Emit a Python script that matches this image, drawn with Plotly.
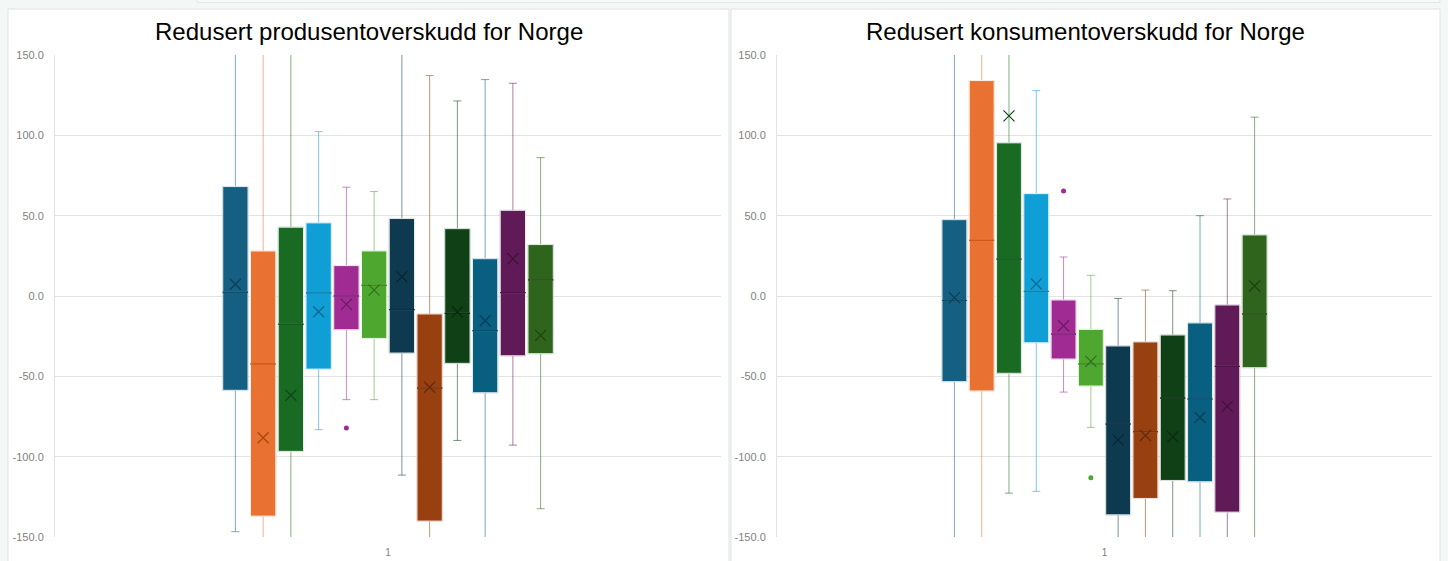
import colorsys
import plotly.graph_objects as go

# ---------------- data ----------------
category = ["1"]
titles = ["Redusert produsentoverskudd for Norge", "Redusert konsumentoverskudd for Norge"]
series_names = ["Serie %d" % (i + 1) for i in range(12)]
y_tick_values = [-150, -100, -50, 0, 50, 100, 150]
y_tick_labels = ["-150.0", "-100.0", "-50.0", "0.0", "50.0", "100.0", "150.0"]

# Panel 1: Redusert produsentoverskudd
prod_low = [-146.7, -175, -175, -83.2, -64.5, -64.5, -111.5, -175, -89.9, -175, -92.8, -132.4]
prod_q1 = [-58.7, -137.0, -96.7, -45.5, -21.0, -26.4, -35.5, -140.1, -41.9, -60.2, -37.2, -35.9]
prod_median = [2.3, -42.3, -17.6, 1.9, 0.0, 6.6, -8.5, -57.3, -10.8, -21.6, 2.1, 10.0]
prod_q3 = [68.1, 28.0, 42.8, 45.5, 18.9, 28.0, 48.2, -11.2, 41.9, 23.2, 53.3, 32.0]
prod_high = [175, 175, 175, 102.3, 67.7, 65.0, 175, 137.2, 121.4, 134.7, 132.4, 86.1]
prod_mean = [7.3, -88.2, -61.8, -9.8, -5.2, 3.7, 12.0, -56.8, -9.8, -15.4, 23.2, -24.5]
prod_outliers = [[], [], [], [], [-82.2], [], [], [], [], [], [], []]

# Panel 2: Redusert konsumentoverskudd
kons_low = [-175, -175, -122.7, -121.6, -59.8, -81.8, -175, -175, -175, -175, -175, -175]
kons_q1 = [-53.3, -59.1, -48.1, -29.1, -39.2, -56.0, -136.2, -126.0, -114.8, -115.6, -134.5, -44.6]
kons_median = [-2.8, 34.7, 23.0, 2.9, -23.7, -42.3, -79.7, -84.5, -63.5, -64.1, -43.8, -11.2]
kons_q3 = [47.5, 134.1, 95.3, 63.7, -2.5, -20.8, -31.1, -28.6, -24.3, -16.8, -5.6, 38.0]
kons_high = [175, 175, 175, 127.8, 24.3, 12.9, -1.5, 3.7, 3.3, 50.0, 60.4, 111.3]
kons_mean = [-1.0, 165.0, 112.1, 7.5, -18.5, -40.7, -89.5, -86.8, -87.6, -75.5, -68.7, 6.2]
kons_outliers = [[], [], [], [], [65.4], [-113.1], [], [], [], [], [], []]

# ---------------- styling ----------------
accents = ["#156082", "#E97132", "#196B24", "#0F9ED5", "#A02B93", "#4EA72E"]


def hex_rgb(h):
    h = h.lstrip("#")
    return tuple(int(h[i:i + 2], 16) for i in (0, 2, 4))


def lum_mod(h, f):
    r, g, b = hex_rgb(h)
    hh, l, s = colorsys.rgb_to_hls(r / 255, g / 255, b / 255)
    r, g, b = colorsys.hls_to_rgb(hh, l * f, s)
    return "#%02x%02x%02x" % (round(r * 255), round(g * 255), round(b * 255))


def rgba(h, a):
    r, g, b = hex_rgb(h)
    return "rgba(%d,%d,%d,%.2f)" % (r, g, b, a)


colors = accents + [lum_mod(c, 0.6) for c in accents]

W, H = 1448, 561
PAGE_BG = "#f3f7f6"
FONT = "Liberation Sans, Arial, Helvetica, sans-serif"

fig = go.Figure()

panels = [
    ("x", "y", prod_low, prod_q1, prod_median, prod_q3, prod_high, prod_mean, prod_outliers),
    ("x2", "y2", kons_low, kons_q1, kons_median, kons_q3, kons_high, kons_mean, kons_outliers),
]

for xa, ya, low, q1, med, q3, high, mean, outl in panels:
    for i in range(12):
        col = colors[i]
        og = str(i)
        common = dict(x=category, xaxis=xa, yaxis=ya, offsetgroup=og,
                      showlegend=False, hoverinfo="skip", name=series_names[i])
        # whiskers
        fig.add_trace(go.Box(q1=[q1[i]], median=[med[i]], q3=[q3[i]],
                             lowerfence=[low[i]], upperfence=[high[i]],
                             fillcolor="rgba(0,0,0,0)", whiskerwidth=0.32,
                             line=dict(color=rgba(col, 0.55), width=1), **common))
        # box body
        fig.add_trace(go.Box(q1=[q1[i]], median=[med[i]], q3=[q3[i]],
                             lowerfence=[q1[i]], upperfence=[q3[i]],
                             fillcolor=col, whiskerwidth=0,
                             line=dict(color="rgba(255,255,255,0.85)", width=1), **common))
        # median line
        fig.add_trace(go.Box(q1=[med[i]], median=[med[i]], q3=[med[i]],
                             lowerfence=[med[i]], upperfence=[med[i]],
                             fillcolor="rgba(0,0,0,0)", whiskerwidth=0,
                             line=dict(color=lum_mod(col, 0.82), width=1), **common))
        # mean marker
        fig.add_trace(go.Scatter(y=[mean[i]], mode="markers", cliponaxis=True,
                                 marker=dict(symbol="x-thin", size=11,
                                             line=dict(color=lum_mod(col, 0.65), width=1.2)),
                                 **common))
        # outliers
        if outl[i]:
            fig.add_trace(go.Scatter(x=category * len(outl[i]), y=outl[i], mode="markers",
                                     xaxis=xa, yaxis=ya, offsetgroup=og, showlegend=False,
                                     hoverinfo="skip", name=series_names[i],
                                     marker=dict(symbol="circle", size=5, color=col)))

# ---------------- layout ----------------
y_dom = [1 - 537 / H, 1 - 55 / H]
xdoms = [[55 / W, 721 / W], [777 / W, 1432 / W]]

axis_y = dict(range=[-150, 150], tickvals=y_tick_values, ticktext=y_tick_labels,
              showgrid=True, gridcolor="#e3e3e3", gridwidth=1, zeroline=False,
              showline=True, linecolor="#e3e3e3", linewidth=1, ticks="",
              ticklabelstandoff=8, automargin=False,
              tickfont=dict(family=FONT, size=11, color="#7f7f7f"),
              domain=y_dom, fixedrange=True)
axis_x = dict(type="category", range=[-0.5, 0.5], showgrid=False, zeroline=False,
              showline=False, ticks="", ticklabelstandoff=8, automargin=False,
              tickfont=dict(family=FONT, size=10, color="#7f7f7f"), fixedrange=True)

panel_rects = [(8, 729), (731, 1440)]
shapes = [dict(type="rect", xref="paper", yref="paper", x0=197 / W, x1=1440 / W,
               y0=1 - 2.5 / H, y1=1.02, line=dict(color="#e2e7e6", width=1),
               fillcolor="#f7faf9", layer="below")]
for x0, x1 in panel_rects:
    shapes.append(dict(type="rect", xref="paper", yref="paper", x0=x0 / W, x1=x1 / W,
                       y0=-0.02, y1=1 - 9 / H, line=dict(color="#e0e3e3", width=1),
                       fillcolor="white", layer="below"))

annotations = []
for (x0, x1), t in zip(panel_rects, titles):
    annotations.append(dict(text=t, xref="paper", yref="paper", x=(x0 + x1) / 2 / W,
                            y=1 - 31 / H, xanchor="center", yanchor="middle",
                            showarrow=False, font=dict(family=FONT, size=24, color="#000000")))

fig.update_layout(
    width=W, height=H, margin=dict(l=0, r=0, t=0, b=0, pad=0, autoexpand=False),
    paper_bgcolor=PAGE_BG, plot_bgcolor="rgba(0,0,0,0)",
    boxmode="group", boxgap=0.5, boxgroupgap=0.09,
    scattermode="group", scattergap=0.5,
    showlegend=False, shapes=shapes, annotations=annotations,
    xaxis=dict(axis_x, domain=xdoms[0], anchor="y"),
    yaxis=dict(axis_y, anchor="x"),
    xaxis2=dict(axis_x, domain=xdoms[1], anchor="y2"),
    yaxis2=dict(axis_y, anchor="x2"),
)

fig.write_html("out.html", config={"displayModeBar": False},
               post_script="document.body.style.margin='0';document.body.style.overflow='hidden';")
